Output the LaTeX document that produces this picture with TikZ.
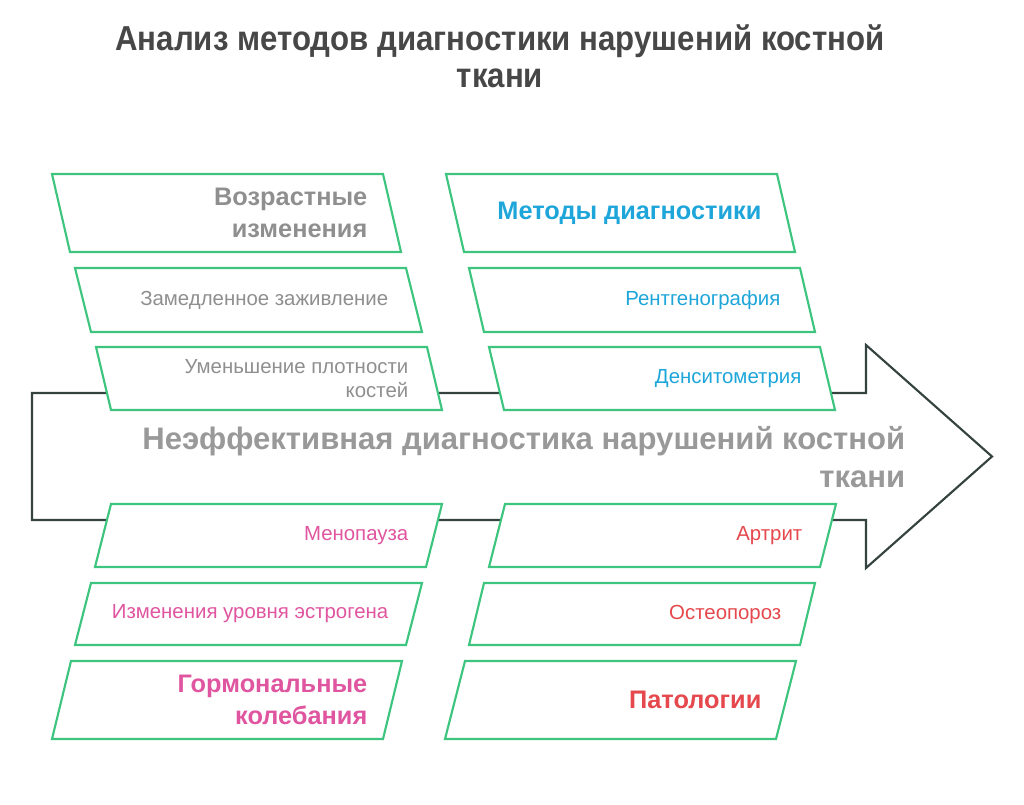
\documentclass[tikz,border=0pt]{standalone}
\usepackage{fontspec}
\setmainfont{Liberation Sans}
\newfontfamily\titlefont{Liberation Sans}[FakeStretch=0.9]
\definecolor{boxgreen}{HTML}{3DC47E}
\definecolor{spine}{HTML}{34433F}
\definecolor{titlegray}{HTML}{474747}
\definecolor{agegray}{HTML}{8F8F8F}
\definecolor{headgray}{HTML}{999999}
\definecolor{diagblue}{HTML}{1EA6DA}
\definecolor{hormpink}{HTML}{E0559F}
\definecolor{pathred}{HTML}{E5484D}
\tikzset{
  cell/.style={draw=boxgreen, line width=1.6pt, fill=white, line join=miter},
  cause/.style={anchor=east, align=right, font=\fontsize{15.3}{18}\selectfont},
  group/.style={anchor=east, align=right, font=\bfseries\fontsize{19}{24}\selectfont}
}

\begin{document}
\begin{tikzpicture}[x=0.75pt, y=-0.75pt]
\useasboundingbox (0,0) rectangle (1024,804);
% title
\node[font=\titlefont\bfseries\fontsize{26}{28}\selectfont, text=titlegray, align=center] (title) at (500,56)
  {Анализ методов диагностики нарушений костной\\ткани};
% fish spine
\draw[spine, line width=1.6pt, fill=white, line join=miter]
  (32,393) -- (866,393) -- (866,345) -- (992,456.5) -- (866,568) -- (866,520) -- (32,520) -- cycle;
\node[anchor=east, align=right, text=headgray, font=\bfseries\fontsize{23.3}{29}\selectfont] (effect) at (910,457)
  {Неэффективная диагностика нарушений костной\\ткани};
% bones
\foreach \x/\y/\h/\s in {52/174/78/18, 75/268/64/16, 96/347/63/15,
                         446/174/78/18, 469/268/64/15, 489/347/63/15,
                         111/504/63/-16, 91/583/62/-16, 71/661/78/-19,
                         505/504/63/-16, 484/583/62/-15, 465/661/78/-20}
  \draw[cell] (\x,\y) -- ++(331,0) -- ++(\s,\h) -- ++(-331,0) -- cycle;
% labels
\node[group, text=agegray] (age) at (372,213) {Возрастные\\изменения};
\node[cause, text=agegray] (heal) at (393,300) {Замедленное заживление};
\node[cause, text=agegray] (dens) at (413,378.5) {Уменьшение плотности\\костей};
\node[group, text=diagblue] (methods) at (766,213) {Методы диагностики};
\node[cause, text=diagblue] (xray) at (785,300) {Рентгенография};
\node[cause, text=diagblue] (dxa) at (806,378.5) {Денситометрия};
\node[cause, text=hormpink] (meno) at (413,535.5) {Менопауза};
\node[cause, text=hormpink] (estro) at (393,614) {Изменения уровня эстрогена};
\node[group, text=hormpink] (horm) at (372,700) {Гормональные\\колебания};
\node[cause, text=pathred] (arthr) at (807,535.5) {Артрит};
\node[cause, text=pathred] (osteo) at (786,614) {Остеопороз};
\node[group, text=pathred] (patho) at (766,700) {Патологии};
\end{tikzpicture}
\end{document}
